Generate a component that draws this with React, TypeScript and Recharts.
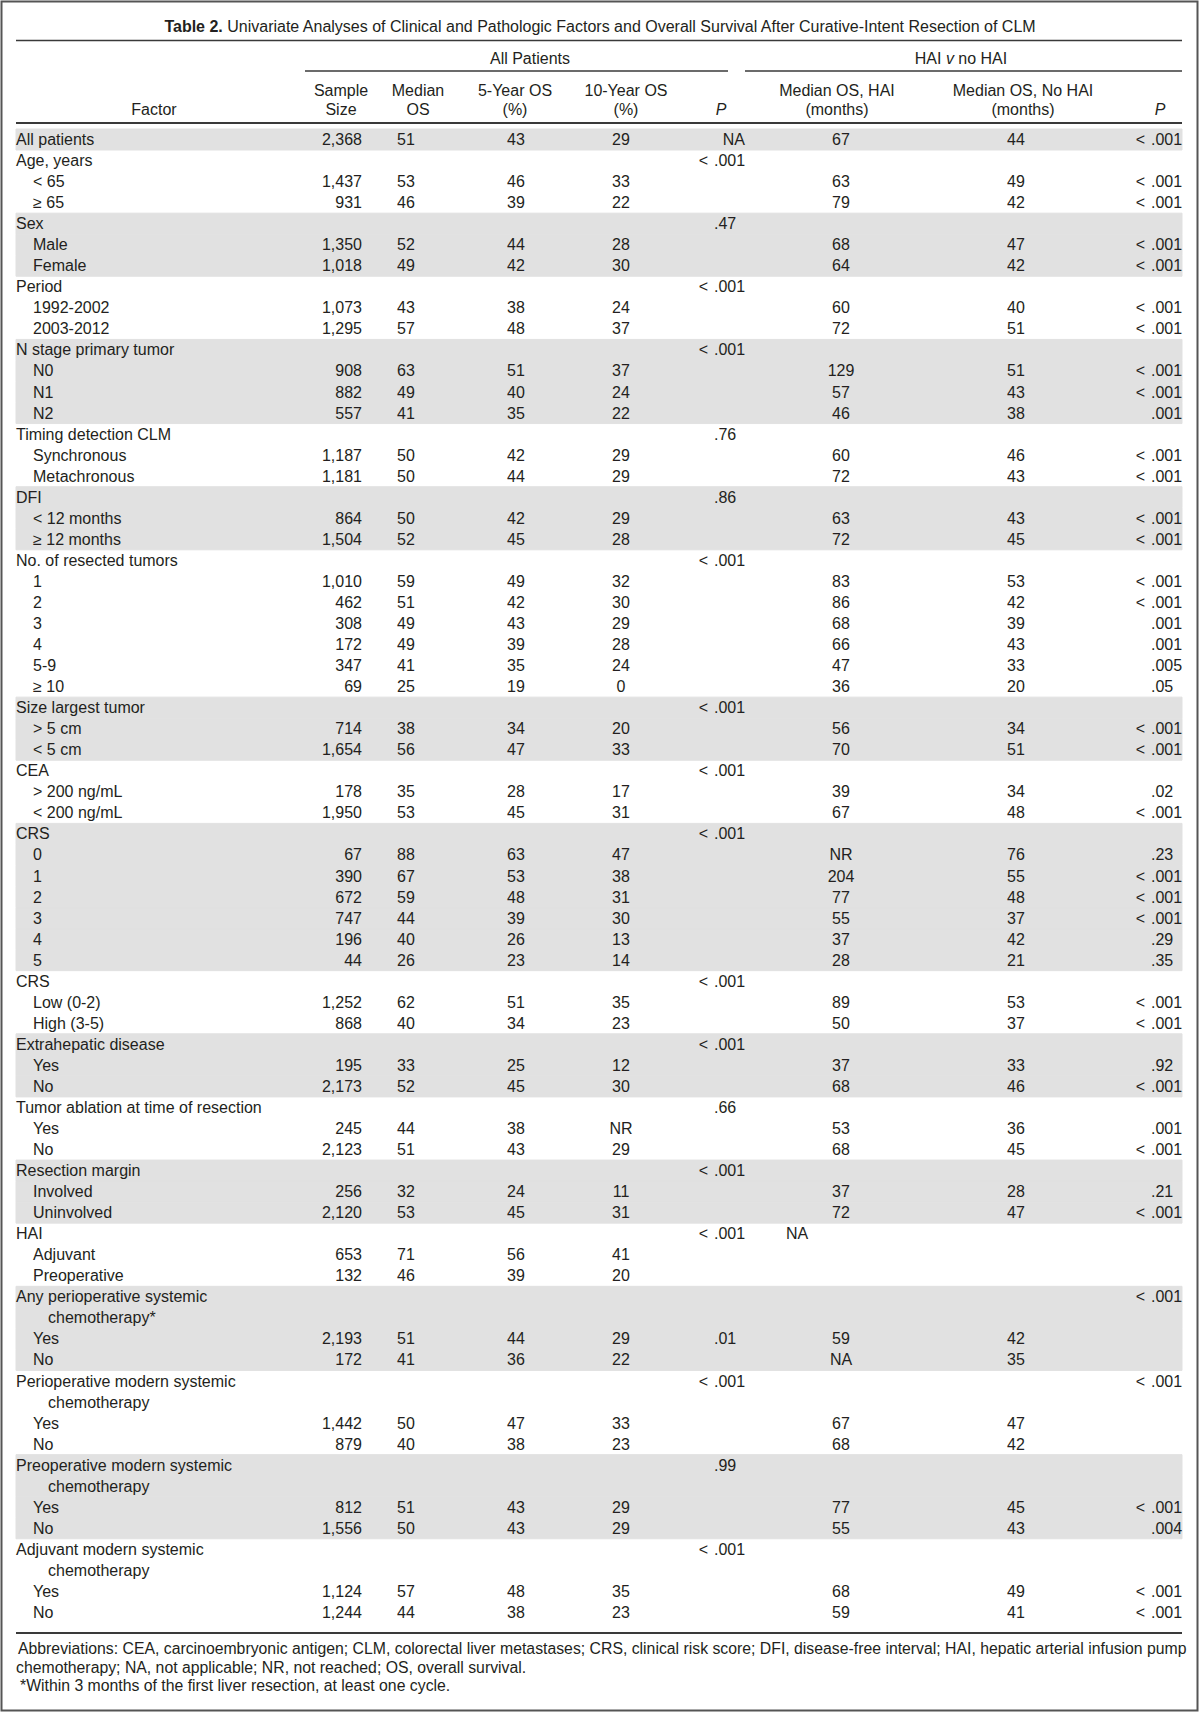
import { BarChart, Bar, XAxis, YAxis } from "recharts";

document.body.style.margin = "0";

// row labels, level: 0 = factor, 1 = sub-item, 2 = wrapped continuation
const factors = [
  "All patients", "Age, years", "< 65", "≥ 65",
  "Sex", "Male", "Female",
  "Period", "1992-2002", "2003-2012",
  "N stage primary tumor", "N0", "N1", "N2",
  "Timing detection CLM", "Synchronous", "Metachronous",
  "DFI", "< 12 months", "≥ 12 months",
  "No. of resected tumors", "1", "2", "3", "4", "5-9", "≥ 10",
  "Size largest tumor", "> 5 cm", "< 5 cm",
  "CEA", "> 200 ng/mL", "< 200 ng/mL",
  "CRS", "0", "1", "2", "3", "4", "5",
  "CRS", "Low (0-2)", "High (3-5)",
  "Extrahepatic disease", "Yes", "No",
  "Tumor ablation at time of resection", "Yes", "No",
  "Resection margin", "Involved", "Uninvolved",
  "HAI", "Adjuvant", "Preoperative",
  "Any perioperative systemic", "chemotherapy*", "Yes", "No",
  "Perioperative modern systemic", "chemotherapy", "Yes", "No",
  "Preoperative modern systemic", "chemotherapy", "Yes", "No",
  "Adjuvant modern systemic", "chemotherapy", "Yes", "No",
];
const levels = [
  0, 0, 1, 1,
  0, 1, 1,
  0, 1, 1,
  0, 1, 1, 1,
  0, 1, 1,
  0, 1, 1,
  0, 1, 1, 1, 1, 1, 1,
  0, 1, 1,
  0, 1, 1,
  0, 1, 1, 1, 1, 1, 1,
  0, 1, 1,
  0, 1, 1,
  0, 1, 1,
  0, 1, 1,
  0, 1, 1,
  0, 2, 1, 1,
  0, 2, 1, 1,
  0, 2, 1, 1,
  0, 2, 1, 1,
];
const sampleSize = [
  "2,368", "", "1,437", "931",
  "", "1,350", "1,018",
  "", "1,073", "1,295",
  "", "908", "882", "557",
  "", "1,187", "1,181",
  "", "864", "1,504",
  "", "1,010", "462", "308", "172", "347", "69",
  "", "714", "1,654",
  "", "178", "1,950",
  "", "67", "390", "672", "747", "196", "44",
  "", "1,252", "868",
  "", "195", "2,173",
  "", "245", "2,123",
  "", "256", "2,120",
  "", "653", "132",
  "", "", "2,193", "172",
  "", "", "1,442", "879",
  "", "", "812", "1,556",
  "", "", "1,124", "1,244",
];
const medianOS = [
  "51", "", "53", "46",
  "", "52", "49",
  "", "43", "57",
  "", "63", "49", "41",
  "", "50", "50",
  "", "50", "52",
  "", "59", "51", "49", "49", "41", "25",
  "", "38", "56",
  "", "35", "53",
  "", "88", "67", "59", "44", "40", "26",
  "", "62", "40",
  "", "33", "52",
  "", "44", "51",
  "", "32", "53",
  "", "71", "46",
  "", "", "51", "41",
  "", "", "50", "40",
  "", "", "51", "50",
  "", "", "57", "44",
];
const os5 = [
  "43", "", "46", "39",
  "", "44", "42",
  "", "38", "48",
  "", "51", "40", "35",
  "", "42", "44",
  "", "42", "45",
  "", "49", "42", "43", "39", "35", "19",
  "", "34", "47",
  "", "28", "45",
  "", "63", "53", "48", "39", "26", "23",
  "", "51", "34",
  "", "25", "45",
  "", "38", "43",
  "", "24", "45",
  "", "56", "39",
  "", "", "44", "36",
  "", "", "47", "38",
  "", "", "43", "43",
  "", "", "48", "38",
];
const os10 = [
  "29", "", "33", "22",
  "", "28", "30",
  "", "24", "37",
  "", "37", "24", "22",
  "", "29", "29",
  "", "29", "28",
  "", "32", "30", "29", "28", "24", "0",
  "", "20", "33",
  "", "17", "31",
  "", "47", "38", "31", "30", "13", "14",
  "", "35", "23",
  "", "12", "30",
  "", "NR", "29",
  "", "11", "31",
  "", "41", "20",
  "", "", "29", "22",
  "", "", "33", "23",
  "", "", "29", "29",
  "", "", "35", "23",
];
const pAll = [
  "NA", "< .001", "", "",
  ".47", "", "",
  "< .001", "", "",
  "< .001", "", "", "",
  ".76", "", "",
  ".86", "", "",
  "< .001", "", "", "", "", "", "",
  "< .001", "", "",
  "< .001", "", "",
  "< .001", "", "", "", "", "", "",
  "< .001", "", "",
  "< .001", "", "",
  ".66", "", "",
  "< .001", "", "",
  "< .001", "", "",
  "", "", ".01", "",
  "< .001", "", "", "",
  ".99", "", "", "",
  "< .001", "", "", "",
];
const haiMedian = [
  "67", "", "63", "79",
  "", "68", "64",
  "", "60", "72",
  "", "129", "57", "46",
  "", "60", "72",
  "", "63", "72",
  "", "83", "86", "68", "66", "47", "36",
  "", "56", "70",
  "", "39", "67",
  "", "NR", "204", "77", "55", "37", "28",
  "", "89", "50",
  "", "37", "68",
  "", "53", "68",
  "", "37", "72",
  "NA", "", "",
  "", "", "59", "NA",
  "", "", "67", "68",
  "", "", "77", "55",
  "", "", "68", "59",
];
const noHaiMedian = [
  "44", "", "49", "42",
  "", "47", "42",
  "", "40", "51",
  "", "51", "43", "38",
  "", "46", "43",
  "", "43", "45",
  "", "53", "42", "39", "43", "33", "20",
  "", "34", "51",
  "", "34", "48",
  "", "76", "55", "48", "37", "42", "21",
  "", "53", "37",
  "", "33", "46",
  "", "36", "45",
  "", "28", "47",
  "", "", "",
  "", "", "42", "35",
  "", "", "47", "42",
  "", "", "45", "43",
  "", "", "49", "41",
];
const pHai = [
  "< .001", "", "< .001", "< .001",
  "", "< .001", "< .001",
  "", "< .001", "< .001",
  "", "< .001", "< .001", ".001",
  "", "< .001", "< .001",
  "", "< .001", "< .001",
  "", "< .001", "< .001", ".001", ".001", ".005", ".05",
  "", "< .001", "< .001",
  "", ".02", "< .001",
  "", ".23", "< .001", "< .001", "< .001", ".29", ".35",
  "", "< .001", "< .001",
  "", ".92", "< .001",
  "", ".001", "< .001",
  "", ".21", "< .001",
  "", "", "",
  "< .001", "", "", "",
  "< .001", "", "", "",
  "", "", "< .001", ".004",
  "", "", "< .001", "< .001",
];

const title = "Univariate Analyses of Clinical and Pathologic Factors and Overall Survival After Curative-Intent Resection of CLM";
const footnotes = [
  "Abbreviations: CEA, carcinoembryonic antigen; CLM, colorectal liver metastases; CRS, clinical risk score; DFI, disease-free interval; HAI, hepatic arterial infusion pump",
  "chemotherapy; NA, not applicable; NR, not reached; OS, overall survival.",
  "*Within 3 months of the first liver resection, at least one cycle.",
];

// alternate shading per factor group
let group = -1;
const rows = factors.map((label, i) => {
  if (levels[i] === 0) group += 1;
  return { id: `r${i}`, label, shade: group % 2 === 0 ? 1 : 0 };
});

const FONT = "'Liberation Sans', Arial, sans-serif";
const INK = "#231f20";
const RULE = "#3a3a3a";
const SHADE = "#e1e1e1";
const FS = 16;

function PCell({ value, dotX, rightX, y }: { value: string; dotX: number; rightX: number; y: number }) {
  if (!value) return null;
  const idx = value.indexOf(".");
  if (idx < 0) {
    return <text x={rightX} y={y} textAnchor="end">{value}</text>;
  }
  const prefix = value.slice(0, idx).trim();
  return (
    <g>
      {prefix ? <text x={dotX - 6} y={y} textAnchor="end">{prefix}</text> : null}
      <text x={dotX} y={y} textAnchor="start">{value.slice(idx)}</text>
    </g>
  );
}

function renderRow(props: any) {
  const { y, payload } = props;
  let i = rows.findIndex((r) => r.id === payload?.value);
  if (i < 0 && typeof payload?.index === "number") i = payload.index;
  if (i < 0 || i >= rows.length) return <g />;
  const by = y + 5.5;
  const lv = levels[i];
  const lx = lv === 0 ? 16 : lv === 1 ? 33 : 48;
  // the HAI factor row carries a section note rather than a median
  const haiNote = lv === 0 && !sampleSize[i] && haiMedian[i];
  return (
    <g fontFamily={FONT} fontSize={FS} fill={INK}>
      <text x={lx} y={by}>{factors[i]}</text>
      <text x={362} y={by} textAnchor="end">{sampleSize[i]}</text>
      <text x={406} y={by} textAnchor="middle">{medianOS[i]}</text>
      <text x={516} y={by} textAnchor="middle">{os5[i]}</text>
      <text x={621} y={by} textAnchor="middle">{os10[i]}</text>
      <PCell value={pAll[i]} dotX={714} rightX={745} y={by} />
      {haiNote ? (
        <text x={786} y={by}>{haiMedian[i]}</text>
      ) : (
        <text x={841} y={by} textAnchor="middle">{haiMedian[i]}</text>
      )}
      <text x={1016} y={by} textAnchor="middle">{noHaiMedian[i]}</text>
      <PCell value={pHai[i]} dotX={1151} rightX={1182} y={by} />
    </g>
  );
}

function HeaderLayer() {
  const t = (x: number, y: number, s: string, anchor = "middle") => (
    <text x={x} y={y + 5.5} textAnchor={anchor as any}>{s}</text>
  );
  return (
    <svg
      width={1200}
      height={1722}
      style={{ position: "absolute", left: 0, top: 0, pointerEvents: "none" }}
    >
      <rect x={1.5} y={1.5} width={1196} height={1709} fill="none" stroke="#555" strokeWidth={2} />
      <g fontFamily={FONT} fontSize={FS} fill={INK}>
        <text x={600} y={31.5} textAnchor="middle">
          <tspan fontWeight="bold">Table 2.</tspan>
          <tspan> {title}</tspan>
        </text>
        {t(530, 58, "All Patients")}
        <text x={961} y={63.5} textAnchor="middle">
          HAI <tspan fontStyle="italic">v</tspan> no HAI
        </text>
        {t(154, 109, "Factor")}
        {t(341, 90, "Sample")}
        {t(341, 109, "Size")}
        {t(418, 90, "Median")}
        {t(418, 109, "OS")}
        {t(515, 90, "5-Year OS")}
        {t(515, 109, "(%)")}
        {t(626, 90, "10-Year OS")}
        {t(626, 109, "(%)")}
        <text x={721} y={114.5} textAnchor="middle" fontStyle="italic">P</text>
        {t(837, 90, "Median OS, HAI")}
        {t(837, 109, "(months)")}
        {t(1023, 90, "Median OS, No HAI")}
        {t(1023, 109, "(months)")}
        <text x={1160} y={114.5} textAnchor="middle" fontStyle="italic">P</text>
      </g>
      <g fontFamily={FONT} fontSize={15.8} fill={INK}>
        <text x={18} y={1654}>{footnotes[0]}</text>
        <text x={16} y={1673}>{footnotes[1]}</text>
        <text x={20} y={1691}>{footnotes[2]}</text>
      </g>
      <g stroke={RULE}>
        <line x1={16} x2={1182} y1={40.5} y2={40.5} strokeWidth={1.5} />
        <line x1={305} x2={728} y1={71} y2={71} strokeWidth={1.3} />
        <line x1={745} x2={1182} y1={71} y2={71} strokeWidth={1.3} />
        <line x1={16} x2={1182} y1={123} y2={123} strokeWidth={2} />
        <line x1={16} x2={1182} y1={1633} y2={1633} strokeWidth={2} />
      </g>
    </svg>
  );
}

export default function App() {
  return (
    <div style={{ position: "relative", width: 1200, height: 1722, background: "#fff" }}>
      <BarChart
        width={1200}
        height={1722}
        layout="vertical"
        data={rows}
        margin={{ top: 129, right: 18, bottom: 99, left: 15 }}
        barCategoryGap={0}
      >
        <XAxis type="number" domain={[0, 1]} hide />
        <Bar
          dataKey="shade"
          fill={SHADE}
          stroke={SHADE}
          strokeWidth={1}
          isAnimationActive={false}
        />
        <YAxis
          type="category"
          dataKey="id"
          width={1}
          axisLine={false}
          tickLine={false}
          interval={0}
          tick={renderRow}
        />
      </BarChart>
      <HeaderLayer />
    </div>
  );
}
